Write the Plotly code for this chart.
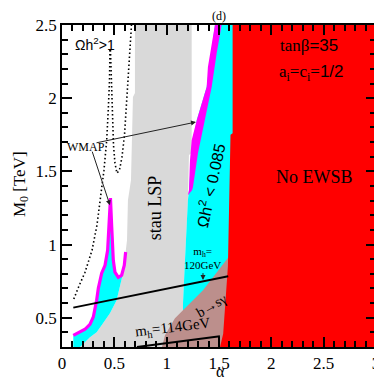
import plotly.graph_objects as go

SERIF = "Liberation Serif"
SANS = "Liberation Sans"

# region boundaries (alpha, M0 in TeV)
red_x = [1.63, 1.63, 1.61, 1.60, 1.585, 1.54, 1.51, 3.0, 3.0]
red_y = [2.5, 1.76, 1.75, 1.37, 0.85, 0.39, 0.30, 0.30, 2.5]

stau_x = [0.697, 0.697, 0.678, 0.659, 0.630, 0.621, 0.608, 0.583, 0.522, 0.458, 0.392,
          0.331, 0.267, 0.22, 0.172, 1.156, 1.156, 1.175, 1.203, 1.213, 1.239, 1.239]
stau_y = [2.5, 2.035, 2.008, 1.44, 1.303, 1.03, 0.949, 0.804, 0.619, 0.530, 0.462,
          0.40, 0.366, 0.332, 0.30, 0.30, 0.598, 0.893, 1.303, 1.611, 1.625, 2.5]

cyan_x = [1.461, 1.382, 1.287, 1.239, 1.213, 1.203, 1.175, 1.156, 1.156, 1.70, 1.70]
cyan_y = [2.5, 2.076, 1.85, 1.625, 1.371, 1.303, 0.893, 0.598, 0.45, 0.45, 2.5]

band_x = [1.461, 1.394, 1.382, 1.287, 1.239, 1.223, 1.213, 1.203,
          1.242, 1.251, 1.299, 1.366, 1.430, 1.478, 1.525]
band_y = [2.5, 2.213, 2.076, 1.85, 1.713, 1.577, 1.371, 1.337,
          1.371, 1.392, 1.624, 1.85, 2.076, 2.308, 2.5]

bsg_x = [1.605, 1.347, 1.194, 1.079, 0.984, 0.955, 1.70, 1.70]
bsg_y = [0.927, 0.687, 0.578, 0.496, 0.380, 0.30, 0.30, 0.927]

# WMAP strip on the low-alpha side
wmap_x = [0.108, 0.172, 0.220, 0.267, 0.299, 0.331, 0.347, 0.379, 0.411, 0.436,
          0.449, 0.463, 0.475, 0.490, 0.506, 0.538, 0.570, 0.595, 0.608]
wmap_y = [0.379, 0.400, 0.421, 0.455, 0.505, 0.619, 0.701, 0.804, 0.858, 0.961,
          1.120, 1.317, 1.120, 0.893, 0.811, 0.776, 0.790, 0.858, 0.949]
blob_edge_x = [0.608, 0.583, 0.522, 0.458, 0.392, 0.331, 0.267, 0.22, 0.172, 0.108]
blob_edge_y = [0.949, 0.804, 0.619, 0.530, 0.462, 0.40, 0.366, 0.332, 0.30, 0.30]

# Omega h^2 > 1 contours (dotted)
omega1_x = [0.458, 0.454, 0.442, 0.427, 0.401, 0.368, 0.334, 0.287, 0.220, 0.153, 0.108]
omega1_y = [2.329, 2.124, 1.919, 1.713, 1.508, 1.337, 1.132, 0.961, 0.811, 0.701, 0.619]
omega2_x = [0.463, 0.473, 0.482, 0.492, 0.506, 0.525, 0.549, 0.573, 0.597, 0.616, 0.635, 0.654, 0.664]
omega2_y = [2.329, 2.055, 1.850, 1.679, 1.556, 1.488, 1.508, 1.597, 1.748, 1.953, 2.158, 2.363, 2.5]

# Higgs mass contours
mh120_x = [0.108, 1.588]
mh120_y = [0.569, 0.783]
mh114_x = [0.716, 1.509]
mh114_y = [0.30, 0.373]

fig = go.Figure()


def region(x, y, color):
    fig.add_trace(go.Scatter(x=x, y=y, fill='toself', fillcolor=color, mode='lines',
                             line=dict(width=0, color=color), hoverinfo='skip'))


region(stau_x, stau_y, '#D9D9D9')
region(cyan_x, cyan_y, '#00FFFF')
region(band_x, band_y, '#FF00FF')
region(bsg_x, bsg_y, '#BC8F8C')
region(red_x, red_y, '#FF0000')
region(wmap_x + blob_edge_x, wmap_y + blob_edge_y, '#00FFFF')

fig.add_trace(go.Scatter(x=wmap_x, y=wmap_y, mode='lines',
                         line=dict(color='#FF00FF', width=3.2)))
for xs, ys in [(omega1_x, omega1_y), (omega2_x, omega2_y)]:
    fig.add_trace(go.Scatter(x=xs, y=ys, mode='lines',
                             line=dict(color='black', width=1.6, dash='1.5px,2.5px')))
for xs, ys in [(mh120_x, mh120_y), (mh114_x, mh114_y)]:
    fig.add_trace(go.Scatter(x=xs, y=ys, mode='lines',
                             line=dict(color='black', width=2)))

# invisible trace so the top/right tick axes get drawn
fig.add_trace(go.Scatter(x=[0], y=[0.3], xaxis='x2', yaxis='y2', mode='markers',
                         marker=dict(opacity=0), hoverinfo='skip'))

notes = [
    dict(x=0.315, y=2.37, text="Ωh<sup>2</sup>>1", font=dict(family=SANS, size=14)),
    dict(x=0.229, y=1.665, text="WMAP", font=dict(family=SERIF, size=12)),
    dict(x=0.888, y=1.255, text="stau LSP", textangle=-90, font=dict(family=SERIF, size=18)),
    dict(x=1.414, y=1.40, text="Ωh<sup>2</sup> < 0.085", textangle=-78,
         font=dict(family=SANS, size=16)),
    dict(x=2.36, y=2.36, text="tanβ<span style='font-family:Liberation Sans'>=35</span>",
         font=dict(family=SERIF, size=17)),
    dict(x=2.38, y=2.17, text="a<sub>i</sub>=c<sub>i</sub>=<span style='font-family:Liberation Sans'>1/2</span>",
         font=dict(family=SERIF, size=17)),
    dict(x=2.41, y=1.46, text="No EWSB", font=dict(family=SERIF, size=18)),
    dict(x=1.34, y=0.91, text="m<sub>h</sub>=<br>120GeV", font=dict(family=SERIF, size=11)),
    dict(x=1.433, y=0.585, text="b→sγ", textangle=-30, font=dict(family=SERIF, size=14)),
    dict(x=1.06, y=0.43, text="m<sub>h</sub>=114GeV", textangle=-7, font=dict(family=SERIF, size=15)),
]
for n in notes:
    fig.add_annotation(showarrow=False, font_color='black', **n)

# arrows
for tail, head in [((0.315, 1.693), (1.280, 1.837)),
                   ((0.284, 1.645), (0.458, 1.269)),
                   ((1.347, 0.815), (1.347, 0.757))]:
    fig.add_annotation(x=head[0], y=head[1], ax=tail[0], ay=tail[1], axref='x', ayref='y',
                       text='', showarrow=True, arrowhead=2, arrowsize=1, arrowwidth=1,
                       arrowcolor='#222')

# panel label and axis titles
fig.add_annotation(x=0.5, y=1.0, xref='paper', yref='paper', yanchor='bottom', yshift=0,
                   text="(d)", showarrow=False, font=dict(family=SERIF, size=12, color='black'))
fig.add_annotation(x=0.506, y=0, xref='paper', yref='paper', yanchor='bottom', yshift=-35,
                   text="α", showarrow=False, font=dict(family=SERIF, size=16, color='black'))
fig.add_annotation(x=0, y=0.506, xref='paper', yref='paper', xanchor='center', xshift=-41,
                   text="M<sub>0</sub> [TeV]", textangle=-90, showarrow=False,
                   font=dict(family=SERIF, size=17, color='black'))

tick_style = dict(showgrid=False, zeroline=False, ticks='inside', ticklen=10,
                  tickwidth=1.5, tickcolor='black', automargin=False)
minor_style = dict(ticklen=6, tickwidth=1.5, ticks='inside', tickcolor='black')

# the page adds an 8px body margin, so the figure is 374 wide/high
fig.update_layout(
    width=374, height=374,
    margin=dict(l=54, r=6, t=17, b=35),
    plot_bgcolor='white', paper_bgcolor='white',
    showlegend=False,
    xaxis=dict(range=[0, 3], tick0=0, dtick=0.5, minor=dict(dtick=0.1, **minor_style),
               showline=True, linecolor='black', linewidth=1.5, mirror=True,
               tickfont=dict(family=SERIF, size=17, color='black'), **tick_style),
    yaxis=dict(range=[0.3, 2.5], tick0=0.5, dtick=0.5,
               minor=dict(tick0=0, dtick=0.1, **minor_style),
               showline=True, linecolor='black', linewidth=1.5, mirror=True,
               tickfont=dict(family=SERIF, size=17, color='black'), **tick_style),
    xaxis2=dict(range=[0, 3], overlaying='x', side='top', anchor='y', tick0=0, dtick=0.5,
                minor=dict(dtick=0.1, **minor_style), showticklabels=False, **tick_style),
    yaxis2=dict(range=[0.3, 2.5], overlaying='y', side='right', anchor='x', tick0=0.5,
                dtick=0.5, minor=dict(tick0=0, dtick=0.1, **minor_style),
                showticklabels=False, **tick_style),
)

fig.write_html("out.html")
